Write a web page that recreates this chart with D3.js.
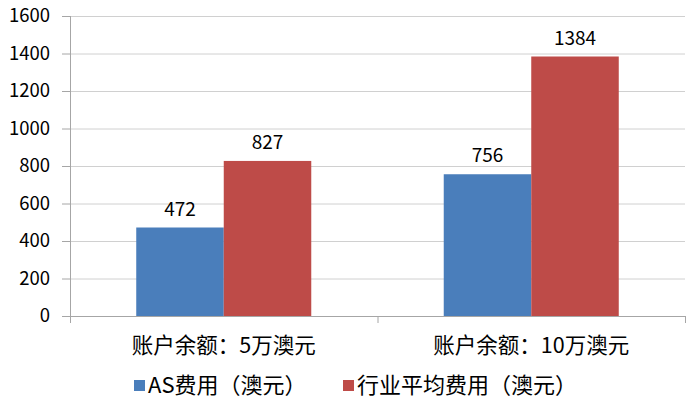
<!DOCTYPE html>
<html>
<head>
	<meta charset="utf-8">
	<script src="https://cdnjs.cloudflare.com/ajax/libs/d3/7.8.5/d3.min.js"></script>
	<style>
		body { margin: 0; background: #fff; }
		text { font-family: "Noto Sans CJK SC", "Noto Sans", sans-serif; fill: #000; }
	</style>
</head>
<body>
	<svg width="700" height="413"></svg>
	<script>
		// data
		const categories = ["账户余额：5万澳元", "账户余额：10万澳元"];
		const series = ["AS费用（澳元）", "行业平均费用（澳元）"];
		const asFee = [472, 756];
		const industryFee = [827, 1384];
		const yTicks = [0, 200, 400, 600, 800, 1000, 1200, 1400, 1600];
		const colors = ["#4a7ebb", "#be4b48"];

		const values = [asFee, industryFee];

		let svg = d3.select("svg"),
			plotLeft = 70, plotRight = 685, plotTop = 16, plotBottom = 316;

		// scales
		let x0 = d3.scaleBand().domain(categories).range([plotLeft, plotRight]).padding(0),
			x1 = d3.scaleBand().domain(series).range([0, x0.bandwidth()]).paddingInner(0).paddingOuter(0.757),
			y = d3.scaleLinear().domain([0, 1600]).range([plotBottom, plotTop]),
			z = d3.scaleOrdinal().domain(series).range(colors);

		// gridlines
		svg.append("g")
			.selectAll("line")
			.data(yTicks.slice(1))
			.enter()
			.append("line")
			.attr("x1", plotLeft).attr("x2", plotRight)
			.attr("y1", d => y(d) + 0.5).attr("y2", d => y(d) + 0.5)
			.attr("stroke", "#d0d0d0");

		// bars
		let group = svg.append("g")
			.selectAll("g")
			.data(categories)
			.enter()
			.append("g")
			.attr("transform", d => "translate(" + x0(d) + ",0)");

		group.selectAll("rect")
			.data((c, ci) => series.map((s, si) => ({s: s, v: values[si][ci]})))
			.enter()
			.append("rect")
			.attr("x", d => x1(d.s))
			.attr("y", d => y(d.v))
			.attr("width", x1.bandwidth())
			.attr("height", d => y(0) - y(d.v))
			.attr("fill", d => z(d.s));

		group.selectAll("text")
			.data((c, ci) => series.map((s, si) => ({s: s, v: values[si][ci]})))
			.enter()
			.append("text")
			.attr("x", d => x1(d.s) + x1.bandwidth() / 2)
			.attr("y", d => y(d.v) - 12)
			.attr("text-anchor", "middle")
			.style("font-size", "19px")
			.text(d => d.v);

		// y axis
		let yAxis = svg.append("g")
			.attr("transform", "translate(" + plotLeft + ",0)")
			.call(d3.axisLeft(y).tickValues(yTicks).tickFormat(d3.format("d")).tickSize(8).tickPadding(12));
		yAxis.selectAll("line").attr("stroke", "#a6a6a6");
		yAxis.select(".domain").attr("stroke", "#a6a6a6").attr("d", "M0.5," + plotTop + "V" + (plotBottom + 6));
		yAxis.selectAll("text").style("font-size", "18.5px").attr("fill", "#000");

		// x axis
		let xAxis = svg.append("g")
			.attr("transform", "translate(0," + plotBottom + ")");
		xAxis.append("line")
			.attr("x1", plotLeft - 8).attr("x2", plotRight)
			.attr("y1", 0.5).attr("y2", 0.5)
			.attr("stroke", "#a6a6a6");
		xAxis.selectAll(".tk")
			.data([plotLeft, x0(categories[1]), plotRight])
			.enter()
			.append("line")
			.attr("x1", d => d + 0.5).attr("x2", d => d + 0.5)
			.attr("y1", 0).attr("y2", 7)
			.attr("stroke", "#a6a6a6");
		xAxis.selectAll("text")
			.data(categories)
			.enter()
			.append("text")
			.attr("x", d => x0(d) + x0.bandwidth() / 2)
			.attr("y", 37)
			.attr("text-anchor", "middle")
			.style("font-size", "21.5px")
			.attr("fill", "#222")
			.text(d => d);

		// legend
		let legendX = [134, 343];
		let legend = svg.append("g")
			.selectAll("g")
			.data(series)
			.enter()
			.append("g")
			.attr("transform", (d, i) => "translate(" + legendX[i] + ",380)");
		legend.append("rect")
			.attr("width", 11).attr("height", 11)
			.attr("fill", z);
		legend.append("text")
			.attr("x", 14)
			.attr("y", 13)
			.style("font-size", "22px")
			.attr("fill", "#222")
			.text(d => d);
	</script>
</body>
</html>
